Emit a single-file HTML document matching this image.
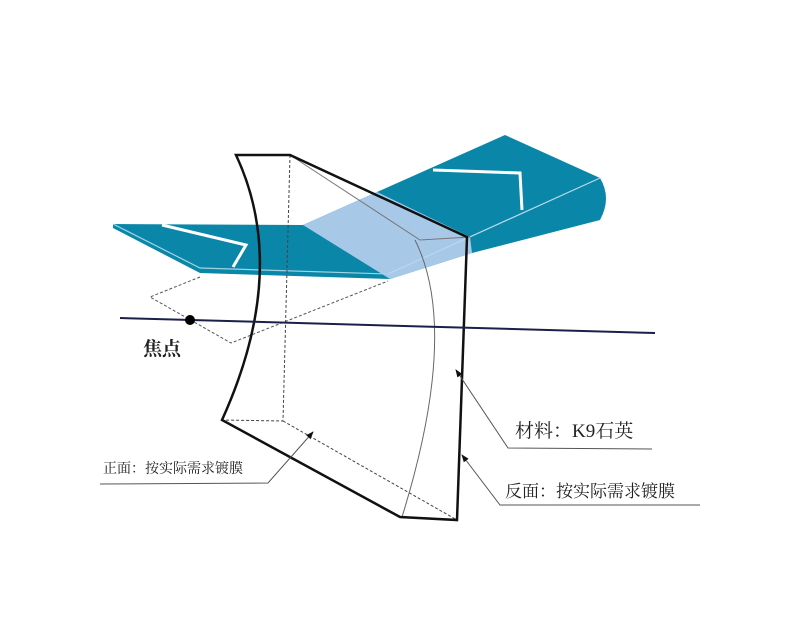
<!DOCTYPE html>
<html><head><meta charset="utf-8"><style>
html,body{margin:0;padding:0;background:#fff;}
svg{display:block;}
text{font-family:"Liberation Serif","Noto Serif CJK SC",serif;fill:#222;}
</style></head><body>
<svg width="800" height="623" viewBox="0 0 800 623" xmlns="http://www.w3.org/2000/svg">
<defs><marker id="ar" markerWidth="8" markerHeight="8" refX="7" refY="4" orient="auto" markerUnits="userSpaceOnUse"><path d="M0,1 L8,4 L0,7 Z" fill="#111"/></marker></defs>
<path d="M113,224 L303,225 L505,135 L600,178 Q612,198 600,220 L472,253 L390,279 L200,273 L113,228 Z" fill="#0a86a8"/>
<path d="M303,225 L377,192 L470,237 L472,253 L390,279 Z" fill="#a8c8e8"/>
<path d="M113,224 L200,268 L388,274" stroke="#9fd4e4" stroke-width="1.2" fill="none"/>
<path d="M388,274 L600,178" stroke="#b9d8ef" stroke-width="1.2" fill="none"/>
<path d="M162,225 L246,245 L233,267" stroke="#fff" stroke-width="3" fill="none"/>
<path d="M433,170 L520,173 L522,210" stroke="#fff" stroke-width="3" fill="none"/>
<path d="M200,277 L150,297 L231,343 L388,281" stroke="#555" stroke-width="1" stroke-dasharray="3,2" fill="none"/>
<path d="M290,155 L283,421 L222,420 M283,421 L457,520" stroke="#444" stroke-width="1" stroke-dasharray="3,2" fill="none"/>
<path d="M290,155 L420,240 L470,237" stroke="#777" stroke-width="1" fill="none"/>
<path d="M415,240 Q460,330 402,517" stroke="#666" stroke-width="1" fill="none"/>
<path d="M236,155 Q290,270 222,420 L400,517 L457,520 L467,237 L290,155 Z" stroke="#111" stroke-width="2.5" fill="none"/>
<line x1="120" y1="318" x2="655" y2="333" stroke="#1b1f4a" stroke-width="2"/>
<circle cx="190" cy="320" r="5" fill="#000"/>
<text x="143" y="355" font-size="19" font-weight="bold">焦点</text>
<path d="M652,449 L508,448 L456,370" stroke="#555" stroke-width="1" fill="none" marker-end="url(#ar)"/>
<text x="515" y="437" font-size="19">材料：K9石英</text>
<path d="M700,505 L500,505 L462,455" stroke="#555" stroke-width="1" fill="none" marker-end="url(#ar)"/>
<text x="505" y="497" font-size="17">反面：按实际需求镀膜</text>
<path d="M100,484 L268,483 L313,432" stroke="#555" stroke-width="1" fill="none" marker-end="url(#ar)"/>
<text x="103" y="473" font-size="14">正面：按实际需求镀膜</text>
</svg>
</body></html>
